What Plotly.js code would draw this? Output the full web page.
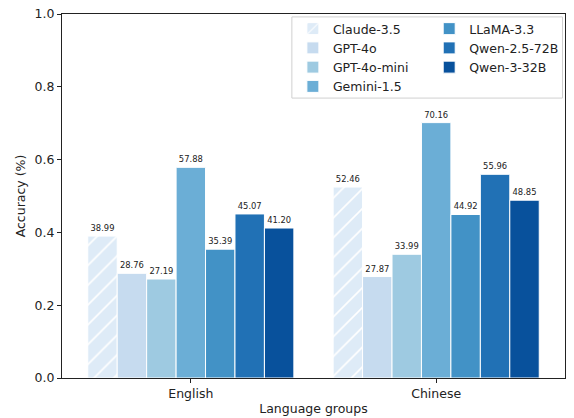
<!DOCTYPE html>
<html>
<head>
<meta charset="utf-8">
<script src="https://cdn.plot.ly/plotly-3.0.1.min.js"></script>
<style>body{margin:0;padding:0;background:#fff;}#chart{width:574px;height:418px;}</style>
</head>
<body>
<div id="chart"></div>
<script>
const groups = ["English", "Chinese"];
const models = ["Claude-3.5", "GPT-4o", "GPT-4o-mini", "Gemini-1.5", "LLaMA-3.3", "Qwen-2.5-72B", "Qwen-3-32B"];
const claude = [38.99, 52.46];
const gpt4o = [28.76, 27.87];
const gpt4omini = [27.19, 33.99];
const gemini = [57.88, 70.16];
const llama = [35.39, 44.92];
const qwen25 = [45.07, 55.96];
const qwen3 = [41.20, 48.85];
const seriesValues = [claude, gpt4o, gpt4omini, gemini, llama, qwen25, qwen3];
const colors = ["#deebf7", "#c6dbef", "#9ecae1", "#6baed6", "#4292c6", "#2171b5", "#08519c"];
const legendOf = ["legend", "legend", "legend", "legend", "legend2", "legend2", "legend2"];

const traces = models.map((m, i) => {
  const t = {
    type: "bar",
    name: m,
    x: groups,
    y: seriesValues[i].map(v => v / 100),
    text: seriesValues[i].map(v => v.toFixed(2)),
    textposition: "outside",
    textfont: {size: 8.4, color: "#222", family: "DejaVu Sans"},
    cliponaxis: false,
    marker: {color: colors[i], line: {color: "#ffffff", width: 1}},
    legend: legendOf[i],
    hoverinfo: "skip"
  };
  if (i === 0) {
    t.marker.pattern = {shape: "/", fgcolor: "#ffffff", bgcolor: colors[0], size: 14, solidity: 0.12, fillmode: "replace"};
  }
  return t;
});

const axisFont = {family: "DejaVu Sans", size: 12.5, color: "#222"};
const layout = {
  width: 574, height: 418,
  margin: {l: 62, r: 9, t: 14, b: 40, autoexpand: false},
  paper_bgcolor: "#fff", plot_bgcolor: "#fff",
  barmode: "group", bargap: 0.16, bargroupgap: 0,
  font: {family: "DejaVu Sans", size: 12.5, color: "#222"},
  xaxis: {
    type: "category", range: [-0.525, 1.525],
    showline: true, mirror: true, linecolor: "#222", linewidth: 1,
    ticks: "outside", ticklen: 4, tickcolor: "#222",
    tickfont: axisFont, showgrid: false, zeroline: false,
    title: {text: "Language groups", font: axisFont, standoff: 4}
  },
  yaxis: {
    range: [0, 1], dtick: 0.2, tickformat: ".1f",
    showline: true, mirror: true, linecolor: "#222", linewidth: 1,
    ticks: "outside", ticklen: 4, tickcolor: "#222",
    tickfont: axisFont, showgrid: false, zeroline: false,
    title: {text: "Accuracy (%)", font: axisFont, standoff: 6}
  },
  legend: {
    x: 0.459, y: 1.0, xanchor: "left", yanchor: "top",
    bgcolor: "rgba(0,0,0,0)", borderwidth: 0,
    font: {family: "DejaVu Sans", size: 12.5, color: "#222"},
    traceorder: "normal", itemwidth: 30
  },
  legend2: {
    x: 0.730, y: 1.0, xanchor: "left", yanchor: "top",
    bgcolor: "rgba(0,0,0,0)", borderwidth: 0,
    font: {family: "DejaVu Sans", size: 12.5, color: "#222"},
    traceorder: "normal", itemwidth: 30
  },
  shapes: [{
    type: "rect", xref: "paper", yref: "paper",
    x0: 0.457, x1: 0.995, y0: 0.769, y1: 0.992,
    line: {color: "#d0d0d0", width: 1}, fillcolor: "rgba(255,255,255,0.8)", layer: "above"
  }],
  showlegend: true
};

Plotly.newPlot("chart", traces, layout, {displayModeBar: false, staticPlot: true});
</script>
</body>
</html>
